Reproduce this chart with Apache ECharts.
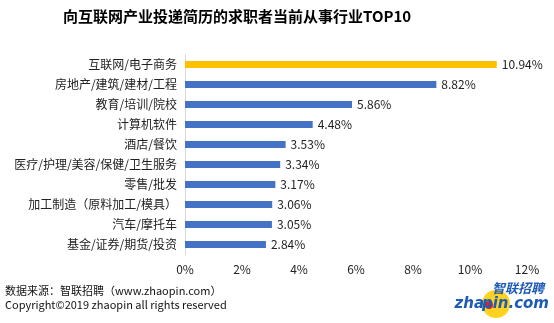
<!DOCTYPE html>
<html><head><meta charset="utf-8">
<script src="https://cdn.jsdelivr.net/npm/echarts@6/dist/echarts.min.js"></script>
<style>html,body{margin:0;padding:0;background:#fff;}#c{width:554px;height:323px;}</style>
</head><body><div id="c"></div>
<script>
const categories = ["互联网/电子商务","房地产/建筑/建材/工程","教育/培训/院校","计算机软件","酒店/餐饮","医疗/护理/美容/保健/卫生服务","零售/批发","加工制造（原料加工/模具）","汽车/摩托车","基金/证券/期货/投资"];
const values = [10.94, 8.82, 5.86, 4.48, 3.53, 3.34, 3.17, 3.06, 3.05, 2.84];
const highlightIndex = 0;
const titleText = "向互联网产业投递简历的求职者当前从事行业TOP10";
const sourceText = "数据来源：智联招聘（www.zhaopin.com）";
const copyrightText = "Copyright©2019 zhaopin all rights reserved";
const font = '"Noto Sans CJK SC", "Noto Sans", sans-serif';

const chart = echarts.init(document.getElementById('c'), null, {renderer:'canvas'});
chart.setOption({
  animation:false,
  backgroundColor:'#fff',
  title:{text:titleText,left:58,top:4,textStyle:{fontFamily:font,fontSize:15,fontWeight:'bold',color:'#000'}},
  grid:{left:185,right:27,top:54.5,bottom:68.5,containLabel:false},
  xAxis:{type:'value',min:0,max:12,interval:2,
    axisLine:{show:false},axisTick:{show:false},splitLine:{show:false},
    axisLabel:{formatter:'{value}%',margin:9,fontFamily:font,fontSize:12,color:'#222'}},
  yAxis:{type:'category',inverse:true,data:categories,
    axisLine:{show:true,lineStyle:{color:'#d9d9d9',width:1}},axisTick:{show:false},
    axisLabel:{margin:8,fontFamily:font,fontSize:12,color:'#222'}},
  series:[{type:'bar',barWidth:'35%',
    data:values.map((v,i)=>({value:v,itemStyle:{color:i===highlightIndex?'#FFC000':'#4472C4'}})),
    label:{show:true,position:'right',distance:5,formatter:p=>p.value.toFixed(2)+'%',fontFamily:font,fontSize:12,color:'#222'}}],
  graphic:[
    {type:'text',left:5,top:285,style:{text:sourceText,font:'11px '+font,fill:'#111'}},
    {type:'text',left:5,top:299,style:{text:copyrightText,font:'11px '+font,fill:'#111'}},
    {type:'circle',shape:{cx:496,cy:304,r:14},style:{fill:'#FFD21F'}},
    {type:'text',x:492,y:282,style:{text:'智联招聘',font:'italic bold 13px '+font,fill:'#1E5BB5'}},
    {type:'text',x:484,y:297,style:{text:'zha',align:'right',font:'italic bold 15px "DejaVu Sans", sans-serif',fill:'#1E5BB5'}},
    {type:'circle',shape:{cx:489,cy:305,r:4},style:{fill:'#D8262B'}},
    {type:'text',x:549,y:297,style:{text:'pin.com',align:'right',font:'italic bold 15px "DejaVu Sans", sans-serif',fill:'#1E5BB5'}}
  ]
});
</script></body></html>
